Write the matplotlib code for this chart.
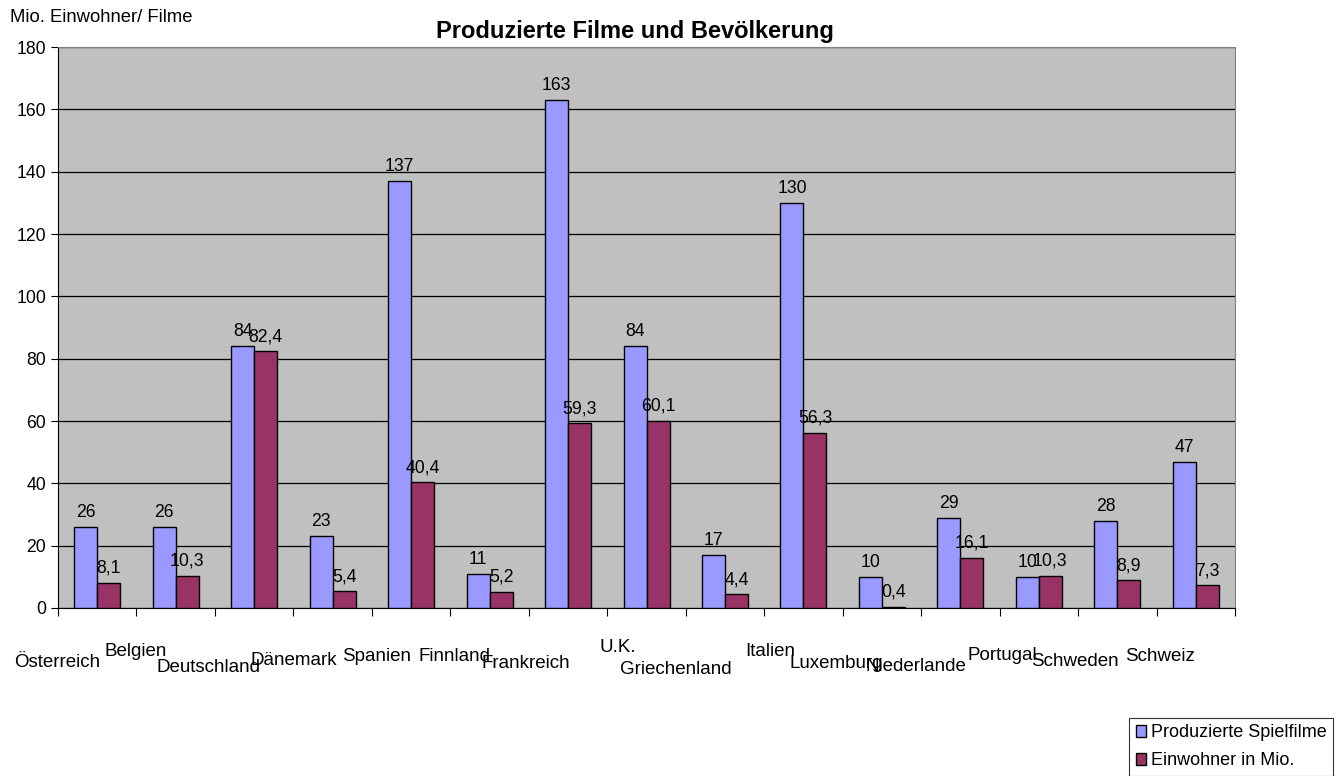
import matplotlib.pyplot as plt
import numpy as np

plt.rcParams['font.family'] = ['Liberation Sans', 'DejaVu Sans']

# Daten
laender = ["Österreich", "Belgien", "Deutschland", "Dänemark", "Spanien",
           "Finnland", "Frankreich", "U.K.", "Griechenland", "Italien",
           "Luxemburg", "Niederlande", "Portugal", "Schweden", "Schweiz"]
spielfilme = [26, 26, 84, 23, 137, 11, 163, 84, 17, 130, 10, 29, 10, 28, 47]
einwohner = [8.1, 10.3, 82.4, 5.4, 40.4, 5.2, 59.3, 60.1, 4.4, 56.3, 0.4, 16.1, 10.3, 8.9, 7.3]

# Versatz der Kategorienamen (Pixel), wie Excel sie staffelt
label_dx = [-40, -40, -46, -39, -35, -35, -42, -29, -49, -33, -46, -44, -37, -42, -36]
label_dy = [-55, -44, -60, -53, -49, -49, -56, -40, -62, -44, -56, -59, -48, -54, -49]

blau = "#9999FF"
weinrot = "#993366"

fig = plt.figure(figsize=(13.43, 7.76), dpi=100)
ax = fig.add_axes([0.0432, 0.2165, 0.8764, 0.7229])
ax.set_facecolor("#C0C0C0")

x = np.arange(len(laender))
breite = 0.293
b1 = ax.bar(x - breite / 2, spielfilme, breite, color=blau, edgecolor="black",
            linewidth=1, label="Produzierte Spielfilme", zorder=3)
b2 = ax.bar(x + breite / 2, einwohner, breite, color=weinrot, edgecolor="black",
            linewidth=1, label="Einwohner in Mio.", zorder=3)

def fmt(v):
    return ("%g" % v).replace(".", ",")

for rects, vals in ((b1, spielfilme), (b2, einwohner)):
    for r, v in zip(rects, vals):
        ax.annotate(fmt(v), (r.get_x() + r.get_width() / 2, v),
                    xytext=(0, 6), textcoords="offset pixels",
                    ha="center", va="bottom", fontsize=12.7, zorder=4)

ax.set_xlim(-0.5, len(laender) - 0.5)
ax.set_ylim(0, 180)
ax.set_yticks(range(0, 181, 20))
ax.yaxis.grid(True, color="black", linewidth=0.9, zorder=1)
ax.tick_params(axis="y", labelsize=12.7, length=5, direction="out")

# Striche an den Kategoriegrenzen, Beschriftung frei gesetzt
ax.set_xticks(np.arange(-0.5, len(laender), 1.0))
ax.set_xticklabels([])
ax.tick_params(axis="x", length=6, direction="out")
for i, name in enumerate(laender):
    ax.annotate(name, (i, 0), xytext=(label_dx[i], label_dy[i]),
                textcoords="offset pixels", ha="center", va="center",
                fontsize=13.5, annotation_clip=False)

for s in ("top", "right"):
    ax.spines[s].set_color("#808080")
ax.spines["left"].set_color("black")
ax.spines["bottom"].set_color("black")

fig.text(0.473, 0.959, "Produzierte Filme und Bevölkerung", ha="center",
         va="center", fontsize=17, fontweight="bold")
fig.text(0.0075, 0.977, "Mio. Einwohner/ Filme", ha="left", va="center",
         fontsize=13.3)

leg = fig.legend(handles=[b1, b2], loc="upper right",
                 bbox_to_anchor=(0.9926, 0.0747), bbox_transform=fig.transFigure,
                 fontsize=13, frameon=True, fancybox=False, edgecolor="black",
                 handlelength=0.6, handleheight=0.6, handletextpad=0.25,
                 borderpad=0.35, labelspacing=0.6, borderaxespad=0)
leg.get_frame().set_linewidth(0.8)

fig.savefig("out.png", dpi=100)
